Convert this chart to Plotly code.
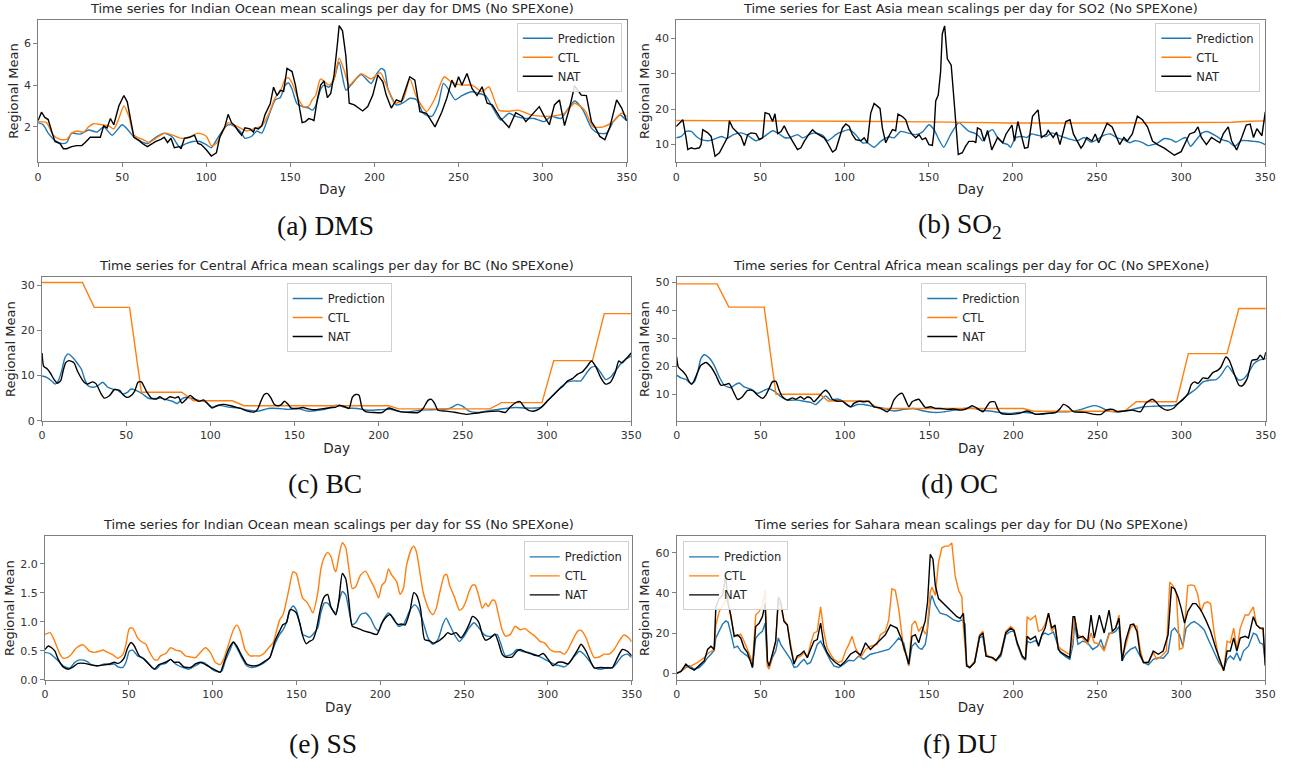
import plotly.graph_objects as go

W, H = 1301, 771

# ---------------------------------------------------------------------------
# Daily regional-mean scalings, stored as (day, value) samples per series
# ---------------------------------------------------------------------------

# (a) DMS, Indian Ocean
dms_pred = [(0,2.2),(3,2.1),(6,1.7),(10,1.35),(14,1.2),(17,1.25),(20,1.7),(25,1.65),(30,1.85),(35,1.75),
            (39,2.0),(44,1.6),(50,2.1),(54,1.8),(57,1.5),(61,1.3),(65,1.2),(70,1.5),(75,1.7),(80,1.5),
            (84,1.05),(88,1.2),(92,1.3),(96,1.3),(100,1.15),(103,1.0),(107,1.5),(112,2.05),(115,2.1),(120,1.8),
            (123,1.45),(127,1.55),(130,1.8),(133,1.7),(137,2.5),(141,3.3),(144,3.4),(147,4.0),(149,4.1),(151,3.8),
            (154,3.1),(158,2.95),(161,2.9),(163,2.8),(165,3.0),(168,3.8),(170,4.0),(173,3.9),(176,4.3),(179,5.1),
            (183,3.76),(186,4.0),(192,4.5),(198,4.08),(201,4.5),(204,4.8),(206,4.7),(208,3.84),(213,3.05),(217,3.15),
            (221,3.37),(225,3.3),(229,2.65),(234,2.5),(238,3.1),(241,4.08),(244,3.8),(248,3.3),(252,3.5),(258,3.68),
            (262,3.6),(266,3.5),(270,2.97),(275,2.33),(280,2.65),(284,2.5),(290,2.4),(295,2.4),(301,2.25),(305,2.5),
            (311,2.4),(314,2.73),(319,3.24),(324,2.8),(329,1.94),(333,1.7),(338,1.7),(342,2.25),(346,2.57),(350,2.29)]
dms_ctl = [(0,2.25),(5,2.2),(9,1.6),(13,1.4),(17,1.4),(20,1.7),(23,1.8),(27,1.75),(30,2.0),(33,2.15),
           (38,2.1),(42,2.05),(45,1.9),(48,2.4),(51,3.0),(54,2.5),(57,1.6),(62,1.4),(66,1.25),(70,1.45),
           (74,1.65),(76,1.7),(80,1.6),(85,1.45),(90,1.5),(95,1.7),(100,1.55),(103,1.1),(106,1.2),(110,1.8),
           (113,2.2),(116,2.1),(120,1.95),(124,1.8),(128,1.9),(133,2.05),(137,2.6),(141,3.4),(144,3.7),(147,4.3),
           (149,4.35),(151,4.1),(155,3.3),(158,2.95),(161,3.0),(163,3.3),(165,3.5),(168,4.3),(173,4.0),(176,4.3),
           (179,5.3),(182,4.7),(185,4.0),(192,4.55),(198,4.3),(203.5,4.6),(207,4.0),(212,3.13),(217,3.3),(221,4.3),
           (225,3.44),(231,2.73),(236,3.37),(241.5,4.4),(245.5,4.16),(252,4.0),(258,4.0),(264,3.68),(268,3.92),(274,2.8),
           (280,2.75),(285.5,2.8),(293,2.57),(301,2.5),(309,2.55),(313,2.65),(319,3.13),(325,2.8),(330,2.0),(336,2.0),
           (342,2.25),(347,2.65),(350,2.5)]
dms_nat = [(0,2.3),(2,2.7),(4,2.45),(6,2.35),(8,1.8),(10,1.3),(13,1.2),(15,0.95),(17,0.95),(20,1.05),
           (23,1.1),(26,1.1),(28,1.25),(31,1.5),(35,1.5),(37,1.5),(39,2.05),(41,1.95),(43,2.4),(45,2.1),
           (48,3.0),(51,3.5),(53,3.2),(55,2.4),(57,1.5),(60,1.35),(62,1.2),(65,1.05),(68,1.2),(70,1.3),
           (73,1.4),(75,1.5),(77,1.25),(79,1.45),(81,1.0),(84,1.05),(85,0.95),(87,1.45),(90,1.5),(93,1.6),
           (95,1.2),(97,1.15),(100,0.9),(103,0.6),(106,0.75),(108,1.5),(111,2.0),(113,2.6),(115,2.2),(117,2.05),
           (119,1.8),(121,1.6),(123,1.95),(126,1.9),(128,1.75),(129,1.95),(131,1.9),(133,2.05),(135,2.6),(138,3.1),
           (140,3.9),(142,3.5),(144,3.75),(146,3.7),(148,4.8),(151,4.65),(153,4.0),(155,3.0),(157,2.2),(159,2.25),
           (161,2.4),(163,2.35),(164,2.3),(166,3.3),(168,4.0),(170,4.2),(172,3.4),(174,3.6),(176,4.5),(178,6.0),
           (179,6.85),(181,6.6),(183,5.4),(185,3.13),(188,3.05),(193,2.76),(196,2.97),(199,3.52),(202,4.48),(205,4.16),
           (207,3.52),(210,2.9),(213,3.29),(216,3.2),(221,4.4),(224,4.24),(227,2.73),(231,2.65),(236,2.0),(240,2.7),
           (243,3.37),(246,4.24),(248,3.9),(250,4.4),(252,4.0),(255,4.56),(258,3.84),(261,3.5),(264,3.92),(267,3.13),
           (270,3.05),(275,2.41),(280,1.97),(284,2.68),(288,2.5),(290,2.25),(294,2.6),(298,2.97),(301,2.5),(304,2.1),
           (307,3.05),(310,3.29),(313,2.06),(316,2.9),(319,3.97),(323,3.52),(326,3.5),(329,2.25),(331,2.0),(334,1.54),
           (337,1.38),(340,2.0),(344,3.29),(347,2.9),(350,2.29)]

# (b) SO2, East Asia
so2_pred = [(0,11.9),(3,12.3),(6,13.7),(9,13.7),(12,12.3),(15,11.4),(19,11.1),(22,11.4),(27,12.3),(30,11.7),
            (34,12.8),(38.5,13.3),(42.5,12.6),(47.4,11.1),(52.4,12.3),(57.3,13.9),(60.3,13.3),(64.2,12.0),(67.2,11.9),(72.1,12.8),
            (75.1,11.9),(79,12.8),(82,13.3),(87,12.6),(90,11.1),(94.9,12.8),(97.8,13.5),(102.8,14.2),(106.7,12.8),(110.7,10.5),
            (113.6,10.5),(117.6,9.25),(121.5,10.9),(126.5,12.2),(129.4,11.9),(133.4,13.7),(137.4,13.3),(142.3,12.8),(146.2,13.5),(150.2,15.6),
            (153.2,14.2),(156.1,11.4),(159,9.25),(163,12.8),(168,16.2),(172,14.5),(174,13.7),(177,13.3),(180,12.3),(182,11.1),
            (186,13.7),(188,14.2),(191,11.9),(194,10.5),(197,10.0),(198.6,9.25),(201.6,11.9),(205.4,12.3),(208.4,12.0),(211,13.0),
            (215,12.6),(220,12.3),(223,13.3),(228.8,12.3),(232.7,11.7),(238.5,11.1),(242.4,12.0),(246.3,10.7),(250,11.4),(254,12.6),
            (258,13.0),(261.9,11.9),(265.8,11.4),(269.6,10.5),(272.6,11.1),(277.4,10.5),(280.4,9.7),(283.3,10.0),(286.2,10.5),(290,11.7),
            (294,11.4),(296.9,10.7),(300.8,11.7),(302.7,12.0),(305.6,9.5),(308.6,11.1),(312.5,13.3),(315.4,13.7),(320.2,12.6),(324.1,11.4),
            (328,10.9),(331.9,9.5),(335.8,11.1),(339.7,11.1),(343.6,10.9),(346.5,10.7),(350,10.0)]
so2_ctl = [(0,16.8),(50,16.8),(100,16.6),(150,16.4),(200,16.1),(250,16.1),(300,16.2),(330,16.3),(340,16.6),(350,16.7)]
so2_nat = [(0,15.1),(2,16.1),(4,17.0),(5.9,11.9),(6.9,8.6),(8.9,9.1),(10.9,8.8),(13.8,9.1),(14.8,10.0),(15.8,14.2),
           (18.8,13.3),(20.8,12.3),(23.1,6.7),(25.7,7.7),(28.7,10.5),(30.6,12.1),(31.6,16.7),(33.6,14.7),(36.6,13.3),(38.5,12.3),
           (40.5,9.7),(42.5,12.8),(44.5,13.3),(47.4,13.1),(49.4,11.4),(51.4,11.9),(52.8,19.0),(55.3,18.6),(57.3,16.5),(58.7,18.7),
           (60.3,13.1),(62.3,13.7),(64.2,15.3),(66.2,13.3),(69.2,10.9),(72.1,8.6),(74.1,9.1),(76.1,10.9),(79,13.0),(81,14.2),
           (83,13.3),(86,12.3),(87.9,11.9),(89.9,10.5),(92.9,7.9),(94.9,8.6),(96.8,11.9),(98.8,14.7),(100.8,15.8),(102.8,15.1),
           (104.7,12.8),(106.7,11.4),(109.7,11.1),(111.7,11.9),(113.6,10.5),(115.6,18.9),(117.6,21.6),(119.6,20.7),(121.1,20.2),(122.5,14.7),
           (124.5,10.5),(126.5,12.5),(128.5,14.2),(130.4,13.9),(131.8,18.6),(134.4,17.9),(136.4,17.0),(138.3,14.2),(140.3,12.8),(142.3,11.9),
           (144.3,12.8),(146.2,11.4),(148.2,11.9),(150.2,10.0),(152.2,9.8),(153.2,13.7),(154.2,22.3),(155.7,24.0),(157.1,30.5),(158.1,41.2),
           (159.5,43.5),(161.1,34.2),(163.4,32.4),(165,23.0),(166.6,11.9),(167.6,7.2),(170,7.7),(171.9,9.5),(173.9,10.9),(176.9,10.9),
           (178,10.5),(179,14.7),(181,14.2),(183,11.0),(185,14.0),(187.5,8.5),(191,12.0),(194,10.5),(196,13.0),(199.5,15.5),
           (201,11.0),(203,16.5),(207,9.0),(209,9.2),(211.7,18.0),(215,19.8),(217,12.0),(220,13.0),(221,14.0),(224,12.0),
           (226,13.5),(228,10.0),(231.5,16.5),(234,17.0),(236,13.0),(240.5,9.0),(242,10.0),(244,12.0),(247,11.0),(249,13.0),
           (251,10.5),(256,16.0),(259,15.0),(263.5,10.0),(266,12.0),(268,11.0),(271,13.0),(274,18.0),(277,17.0),(280,15.0),
           (283,11.0),(286,10.0),(290,9.0),(293,8.0),(296,7.0),(300,8.0),(302,10.0),(305,13.0),(308,13.5),(310,15.0),
           (312,12.0),(315,10.0),(318,12.0),(321,11.0),(323,10.5),(325,13.0),(328,15.0),(330,11.0),(333,8.5),(336,12.0),
           (338.7,15.5),(341,15.8),(343,12.0),(345,14.5),(348,12.5),(350,19.2)]

# (c) BC, Central Africa
bc_pred = [(0,9.9),(2.75,9.6),(5.7,8.8),(7.7,8.1),(9.6,8.8),(11.6,11.0),(13.6,13.9),(15.5,14.8),(18.5,13.9),(21.4,12.5),
           (23.4,11.4),(25.3,9.2),(27.3,7.75),(30.3,7.4),(33.2,7.75),(36.1,8.5),(39,7.4),(42,7.0),(45,6.7),(48,5.9),
           (50.9,6.3),(52.8,7.0),(55.8,6.7),(59.7,5.9),(63.6,4.9),(67.6,4.9),(70.5,5.0),(74.4,4.6),(77.4,4.3),(80.4,3.8),
           (83.3,4.9),(86.2,5.2),(89.2,4.9),(93.1,4.5),(97,4.2),(101,3.0),(104.9,3.4),(110.8,3.0),(116.7,2.8),(122.6,2.3),
           (128.5,2.1),(134.4,2.7),(140.3,2.7),(146.2,2.5),(152,2.7),(158,2.1),(163.9,2.3),(169.7,2.7),(174.7,3.4),(181.4,2.8),
           (187.3,2.7),(193,2.3),(200,2.4),(206.8,2.5),(212.7,2.0),(218.6,2.0),(224.4,2.3),(230.3,2.4),(236,2.5),(242,2.7),
           (246.9,3.6),(249.8,3.2),(253.7,2.1),(258.6,1.8),(263.5,2.1),(269.3,2.4),(275.2,2.7),(281,2.9),(286.9,2.8),(292.8,2.8),
           (296.7,3.0),(300.6,4.5),(304.5,5.9),(308.4,7.5),(312.3,8.6),(316.2,8.8),(320,8.8),(323,10.3),(326,11.7),(328.9,12.0),
           (331.8,10.7),(334.8,9.1),(337.7,9.6),(340.6,11.0),(343.6,12.5),(346.5,13.6),(350,14.3)]
bc_ctl = [(0,30.6),(24,30.6),(31,25.1),(52,25.1),(59,6.3),(83,6.3),(90,4.4),(113,4.4),(120,3.3),
          (206,3.3),(212,2.6),(266,2.6),(273,4.0),(297,4.0),(304,13.3),(327,13.3),(334,23.7),(350,23.7)]
bc_nat = [(0,15.0),(1,12.0),(3,11.5),(5,10.5),(7,9.2),(9,8.3),(11,8.8),(12.5,11.0),(14,12.8),(16,13.3),
          (19,12.8),(21,11.0),(25,8.5),(27,8.1),(30,8.6),(32,8.2),(35,6.0),(37,5.0),(40,5.5),(43,6.9),
          (46,6.7),(48,5.8),(50,5.2),(52,5.3),(55,6.5),(57,8.5),(59,8.6),(62,6.5),(65,5.0),(68,4.8),
          (70,5.3),(73,4.6),(76,5.3),(79,5.0),(81,5.3),(83,3.9),(85,4.5),(88,5.6),(90,5.0),(93,4.3),
          (96,4.6),(98,3.9),(101,2.8),(104,3.3),(108,3.6),(112,3.3),(115,3.0),(118,2.7),(122,2.1),(126,1.9),
          (128,2.5),(130,4.3),(132,5.8),(134,6.0),(136,5.0),(138,3.6),(140,3.3),(142,3.5),(144,4.3),(146,3.7),
          (148,2.8),(152,2.7),(155,2.9),(158,2.6),(162,2.4),(166,2.6),(170,2.8),(174.6,3.0),(176.6,3.4),(180.5,3.0),
          (182.4,2.7),(184.4,5.2),(186.3,5.8),(188.3,5.6),(190.2,2.7),(192.2,2.0),(197,1.8),(202,1.8),(205.9,2.8),(208.8,2.5),
          (212.7,2.0),(218.6,1.8),(223.4,1.8),(226.4,2.7),(229.3,4.5),(231.3,4.7),(233.2,3.8),(235.2,2.3),(240,2.1),(245.9,1.8),
          (251.8,1.4),(256.6,1.6),(260.5,1.8),(265.4,2.0),(271.3,2.1),(275.2,1.8),(278.1,3.0),(282,4.1),(284,4.2),(286.9,2.8),
          (290.8,2.1),(293.8,2.3),(296.7,3.0),(300.6,4.5),(303.5,5.6),(306.4,6.7),(309.4,7.6),(312.3,8.8),(315.2,9.3),(318.2,10.3),
          (321,10.8),(324,12.1),(326.4,13.2),(328.9,12.0),(331.8,9.6),(334.8,8.1),(337.7,8.5),(340.6,10.7),(342.6,13.2),(344.5,12.8),
          (347.5,13.9),(350,15.0)]

# (d) OC, Central Africa
oc_pred = [(0,16.9),(2.6,15.9),(5.5,15.4),(8.5,13.9),(10.5,14.5),(12.5,18.0),(14.4,22.8),(16.4,24.2),(19.4,23.0),(22.3,20.4),
           (25.3,16.3),(28.3,13.3),(32.2,12.4),(34.2,13.3),(37.2,14.1),(40.1,12.7),(44.1,11.9),(48,10.4),(52,11.5),(55,12.1),
           (57.9,11.2),(61.9,9.2),(65.8,8.0),(71.7,8.0),(75.7,7.6),(79.6,7.2),(82.6,6.4),(85.6,8.0),(88.5,9.5),(91.5,8.0),
           (95.5,8.4),(99.4,7.4),(103.4,5.6),(107.3,6.4),(111.3,6.4),(117.2,5.6),(123.1,5.0),(129,4.1),(135,4.7),(140.9,5.0),
           (146.8,4.1),(152.8,3.6),(158.7,3.8),(164.6,4.4),(170.6,5.0),(177.5,5.0),(180,4.4),(186,4.1),(191.8,3.6),(197.7,3.25),
           (203.5,3.6),(209.4,3.5),(215.2,2.9),(221,3.25),(226.9,3.8),(232.7,3.8),(238.6,4.4),(243.5,5.3),(247.4,6.0),(251.3,5.6),
           (255.2,4.4),(260,3.8),(265.9,4.1),(271.7,4.8),(277.6,5.6),(283.4,5.8),(289.3,6.0),(295,6.0),(298,6.8),(301,8.6),
           (304.9,10.4),(308.8,12.1),(312.7,14.5),(316.6,15.1),(320.5,15.3),(323.4,16.9),(327.3,20.2),(330.2,18.0),(334.1,15.1),(337,15.7),
           (340,18.0),(342.9,21.0),(345.8,22.2),(350,22.8)]
oc_ctl = [(0,49.5),(24,49.5),(31,41.2),(52,41.2),(59,10.1),(85,10.1),(90,7.7),(113,7.7),(120,5.0),
          (206,5.0),(212,4.0),(266,4.0),(273,7.4),(297,7.4),(304,24.6),(327,24.6),(334,40.7),(350,40.7)]
oc_nat = [(0,23.4),(1,19.8),(3.6,18.3),(5.5,16.9),(7.5,14.5),(8.9,13.6),(10.5,15.1),(12.5,18.0),(14.4,20.4),(17.4,21.4),
          (20.4,19.8),(23.3,16.9),(26.3,13.3),(29.2,13.6),(31.2,13.9),(34.2,10.4),(36.2,8.2),(39.1,9.2),(42.1,11.5),(45.1,11.5),
          (48,9.8),(51,8.6),(53,9.8),(54.9,12.1),(56.9,14.5),(58.9,14.7),(60.9,11.5),(62.8,9.2),(65.8,8.0),(68.8,8.8),
          (70.8,8.3),(73.7,9.2),(75.7,8.3),(77.7,9.1),(79.6,8.8),(81.6,7.4),(83.6,8.6),(86.6,10.7),(88.5,11.5),(90.5,10.4),
          (92.5,8.3),(95.5,7.6),(98.4,7.6),(101.4,6.2),(103.4,5.6),(105.3,6.8),(108.3,7.6),(111.3,7.4),(114.2,7.6),(117.2,5.6),
          (120.2,5.3),(123.1,4.4),(125.1,3.85),(127.1,5.0),(129,8.0),(132,10.0),(134,10.4),(136,8.0),(137.9,5.6),(139.9,7.4),
          (141.9,8.0),(143.9,8.3),(145.8,6.8),(147.8,5.3),(150.8,5.6),(153.8,5.0),(156.7,5.0),(160.7,4.7),(164.6,4.8),(168.6,4.4),
          (172.5,5.0),(175.5,6.0),(178,5.3),(182,3.85),(186,7.2),(188.9,7.4),(190.8,4.8),(192.8,3.25),(197.7,2.9),(203.5,3.25),
          (208.4,4.1),(213.3,2.9),(219,3.25),(225,3.5),(227.9,5.0),(229.8,6.45),(232.7,5.6),(235.7,3.85),(242.5,3.6),(248.3,2.9),
          (252.2,2.9),(255.2,4.4),(259,4.7),(262,3.85),(265.9,4.1),(270.8,4.4),(275.6,3.85),(278.6,6.8),(282.5,8.3),(284.4,7.6),
          (287.3,5.6),(291.2,4.4),(295,5.0),(298,6.8),(301,8.3),(303.9,10.4),(305.8,13.6),(307.8,14.5),(309.7,13.9),(312.7,15.9),
          (315.6,15.7),(318.5,17.8),(321.4,18.6),(323.4,19.8),(326.3,23.4),(328.3,22.2),(331.2,17.5),(334.1,13.3),(336.1,13.1),(339,15.7),
          (341.9,22.2),(344.8,22.5),(346.8,24.0),(348.7,22.5),(350,25.1)]

# (e) SS, Indian Ocean
ss_pred = [(0,0.47),(3,0.45),(6.9,0.35),(10.8,0.24),(14.8,0.2),(17.8,0.30),(20.7,0.34),(24.7,0.32),(27.6,0.26),(31.6,0.24),
           (35.5,0.27),(38.5,0.26),(41.4,0.27),(43.4,0.22),(46.4,0.21),(48.3,0.30),(50.3,0.49),(52.3,0.51),(55.2,0.41),(58.2,0.38),
           (61.1,0.30),(64.1,0.21),(66.1,0.18),(69,0.26),(72,0.28),(75,0.35),(77.9,0.27),(81.9,0.21),(85.8,0.18),(89.7,0.24),
           (93.7,0.30),(96.6,0.26),(99.6,0.18),(102.6,0.14),(105.5,0.15),(107.5,0.32),(110.5,0.52),(112.4,0.64),(114.4,0.55),(117.4,0.38),
           (120.3,0.24),(123.3,0.21),(127.2,0.24),(131.2,0.30),(134.1,0.38),(137.1,0.61),(140,0.78),(142,0.86),(144,0.98),(146,1.18),
           (147.9,1.27),(149.9,1.2),(151.9,0.98),(153.8,0.78),(155.8,0.75),(157.8,0.73),(159.8,0.78),(162.7,0.89),(164.6,1.16),(166.6,1.32),
           (168.6,1.32),(171.5,1.2),(173.5,1.15),(175.4,1.35),(177.4,1.52),(179.4,1.46),(181.3,1.2),(183.3,0.95),(185.3,0.98),(188.2,1.12),
           (191.2,1.15),(194.1,1.06),(197,0.89),(199,0.84),(202,1.04),(204.9,1.15),(207.9,1.06),(210.8,0.92),(213.8,0.95),(217.7,1.2),
           (220.6,1.29),(222.6,1.23),(225.5,1.0),(228.5,0.72),(231.4,0.61),(234.4,0.69),(237.3,0.95),(239.3,1.06),(241.3,0.95),(244.2,0.78),
           (247.2,0.66),(250.1,0.75),(253,0.89),(256,0.98),(258.9,0.89),(261.9,0.78),(263.8,0.75),(266.8,0.75),(269.7,0.78),(271.7,0.64),
           (274.7,0.41),(278.6,0.44),(281.5,0.52),(284.5,0.49),(288.4,0.47),(292.3,0.43),(296.3,0.38),(300.2,0.32),(304.1,0.26),(307.1,0.24),
           (310,0.22),(313,0.30),(316,0.41),(318.9,0.49),(321.8,0.43),(324.8,0.32),(327.7,0.21),(331.6,0.18),(335.6,0.21),(338.5,0.2),
           (341.5,0.30),(344.4,0.41),(347.4,0.44),(350,0.38)]
ss_ctl = [(0,0.78),(3,0.81),(4.9,0.72),(6.9,0.58),(8.9,0.44),(10.8,0.37),(13.8,0.39),(15.8,0.44),(17.8,0.52),(19.7,0.57),
          (22.7,0.6),(24.7,0.55),(26.6,0.49),(29.6,0.47),(32.5,0.49),(34.5,0.51),(37.5,0.47),(40.4,0.43),(43.4,0.37),(46.4,0.43),
          (48.3,0.61),(50.3,0.88),(52.3,0.89),(55.2,0.72),(58.2,0.64),(60.2,0.61),(62.1,0.49),(65.1,0.35),(67.1,0.34),(69,0.41),
          (72,0.45),(75,0.55),(77.9,0.51),(80.9,0.49),(83.8,0.41),(86.8,0.39),(89.7,0.38),(92.7,0.47),(95.7,0.55),(98.6,0.47),
          (101.6,0.3),(104.5,0.26),(106.5,0.35),(109.5,0.61),(112.4,0.86),(114.4,0.94),(116.4,0.84),(119.3,0.52),(122.3,0.41),(125.2,0.41),
          (128.2,0.41),(131.2,0.47),(133.1,0.54),(136.1,0.64),(138.1,0.84),(140,1.03),(142,1.12),(144,1.35),(146,1.63),(147.9,1.86),
          (149.9,1.83),(151.9,1.6),(153.8,1.4),(155.8,1.35),(157.8,1.26),(159.8,1.15),(162.7,1.49),(164.6,1.91),(166.6,2.11),(168.6,2.19),
          (170.5,2.13),(172.5,1.91),(173.5,1.86),(175.4,2.14),(177.4,2.36),(179.4,2.28),(181.3,1.91),(183.3,1.57),(185.3,1.6),(188.2,1.8),
          (191.2,1.87),(194.1,1.72),(197,1.55),(199,1.41),(201,1.63),(203,1.69),(204.9,1.91),(206.9,1.8),(209.8,1.69),(211.8,1.47),
          (213.8,1.57),(215.7,1.97),(218.7,2.26),(220,2.3),(221.6,2.2),(223.6,1.86),(225.5,1.52),(227.5,1.32),(229.5,1.18),(231.4,1.12),
          (233.4,1.23),(235.4,1.49),(238.3,1.8),(239.7,1.81),(241.3,1.63),(244.2,1.43),(247.2,1.2),(249.1,1.23),(251.1,1.35),(253,1.52),
          (255,1.63),(256.6,1.63),(258.9,1.43),(260.9,1.23),(262.9,1.32),(264.4,1.26),(266.8,1.37),(268.4,1.36),(270.3,1.15),(272.7,0.86),
          (274.7,0.75),(277.6,0.78),(280.5,0.92),(283.5,0.86),(286.4,0.88),(289.4,0.81),(292.3,0.75),(295.3,0.66),(298.2,0.63),(301.2,0.52),
          (304.1,0.48),(307.1,0.48),(310,0.44),(312,0.52),(314.9,0.69),(317.9,0.84),(319.8,0.85),(322.8,0.72),(325.7,0.49),(327.7,0.38),
          (330.6,0.39),(333.6,0.44),(336.5,0.44),(339.5,0.52),(342.4,0.66),(345.4,0.77),(348.3,0.72),(350,0.65)]
ss_nat = [(0,0.52),(2,0.58),(3.9,0.55),(5.9,0.49),(7.9,0.35),(10.8,0.22),(13.8,0.18),(16.8,0.22),(19.7,0.28),(23.7,0.28),
          (26.6,0.26),(30.6,0.24),(34.5,0.25),(38.5,0.27),(41.4,0.3),(43.4,0.28),(45.4,0.31),(47.3,0.38),(49.3,0.55),(51.3,0.64),
          (53.3,0.58),(56.2,0.41),(59.2,0.35),(62.1,0.26),(65.1,0.18),(68,0.26),(72,0.3),(75,0.35),(76.9,0.3),(79.9,0.3),
          (82.8,0.22),(86.8,0.21),(89.7,0.27),(92.7,0.3),(95.7,0.26),(98.6,0.21),(102.6,0.15),(104.5,0.125),(106.5,0.27),(109.5,0.52),
          (112.4,0.65),(114.4,0.58),(117.4,0.41),(120.3,0.27),(123.3,0.24),(127.2,0.25),(131.2,0.32),(134.1,0.38),(137.1,0.66),(140,0.84),
          (142,0.95),(144,0.98),(146,1.2),(147.9,1.2),(149.9,1.15),(151.9,0.98),(153.8,0.75),(155.8,0.62),(157.8,0.66),(159.8,0.69),
          (161.7,0.84),(164.6,1.26),(166.6,1.43),(168.6,1.47),(170.5,1.26),(173.5,1.12),(175.4,1.39),(177.4,1.83),(179.4,1.74),(181.3,1.35),
          (183.3,0.92),(186.3,0.89),(190.2,0.84),(194.1,0.81),(198,0.78),(201,0.98),(203.9,1.09),(205.9,1.12),(208.8,1.0),(210.8,0.95),
          (212.8,0.96),(214.7,0.94),(217.7,1.18),(220,1.5),(221.6,1.46),(224,1.23),(226.5,0.69),(229.5,0.67),(231.4,0.63),(234.4,0.66),
          (238.3,0.75),(240.3,0.81),(242.2,0.78),(245.2,0.81),(248.1,0.72),(251.1,0.84),(253.4,0.98),(255,1.09),(257,1.06),(258.9,0.98),
          (260.9,0.78),(262.9,0.68),(265.8,0.72),(268.4,0.79),(270.3,0.66),(272.7,0.44),(274.7,0.39),(278.6,0.39),(281.5,0.49),(283.5,0.52),
          (286.4,0.48),(290.4,0.44),(294.3,0.41),(297.2,0.45),(300.2,0.35),(303.1,0.24),(306.1,0.3),(309,0.3),(312,0.27),(314.9,0.38),
          (317.9,0.52),(319.8,0.61),(322.8,0.49),(325.7,0.3),(327.7,0.2),(331.6,0.21),(335.6,0.2),(338.5,0.21),(341.5,0.38),(344.4,0.52),
          (347.4,0.49),(350,0.41)]

# (f) DU, Sahara
du_pred = [(0,0.0),(2.6,1.0),(5.5,2.9),(7.5,3.75),(10.5,2.1),(13.4,2.9),(16.4,5.4),(18.4,7.8),(20.4,9.5),(22.3,11.4),
           (23.3,17.6),(25.3,20.9),(27.3,24.5),(29.2,26.1),(30.6,25.4),(32.2,20.0),(34.2,12.7),(36.2,13.5),(38.1,11.1),(40.1,9.8),
           (42.1,8.6),(44.1,6.2),(45.1,2.9),(47,17.6),(49,19.6),(51,20.9),(52.6,25.0),(54,4.0),(55,2.9),(56.9,7.8),
           (58.9,11.1),(60.5,17.6),(61.9,14.4),(63.8,11.9),(65.8,9.5),(67.8,7.0),(69.8,2.9),(71.7,3.3),(73.7,5.4),(75.7,7.0),
           (77.7,4.6),(79.6,5.4),(81.6,9.5),(83.6,14.4),(85.6,16.0),(87.5,12.7),(89.5,9.5),(91.5,6.2),(93.5,3.75),(96.4,2.9),
           (99.4,4.6),(102.4,6.5),(105.3,6.2),(108.3,8.6),(111.3,7.0),(115.2,9.5),(119.2,10.3),(123.1,11.4),(126.1,11.9),(129,14.4),
           (132,17.6),(135,15.2),(137,7.8),(138,3.75),(139.9,13.5),(141.9,15.2),(143.9,12.7),(145.8,11.9),(147.8,14.4),(148.8,19.2),
           (150.8,35.6),(151.8,38.8),(153.8,33.9),(156.7,29.9),(160.7,29.0),(164.6,26.6),(167.6,25.8),(169.6,26.6),(171.5,24.5),(172.3,3.75),
           (174.3,2.9),(177.2,5.4),(180.1,17.6),(182,18.4),(184,8.6),(187.9,7.8),(189.9,6.2),(192.8,8.6),(195.7,19.2),(198.6,20.9),
           (200.6,20.9),(202.5,14.4),(205.5,7.8),(207.4,6.5),(208.4,16.0),(210.3,15.2),(213.3,16.3),(215.2,14.4),(217.2,19.2),(219.1,20.0),
           (221,19.2),(224,20.6),(225.9,16.0),(227.9,10.6),(230.8,8.6),(233.7,7.0),(235.7,14.4),(236.6,25.0),(238.6,14.4),(241.5,16.0),
           (244.4,15.2),(247.4,11.9),(250.3,13.5),(252.2,16.8),(254.2,11.9),(257.1,20.0),(259.1,20.0),(261,20.9),(263,23.3),(264.9,6.2),
           (266.9,9.5),(269.8,11.9),(272.7,13.1),(275.6,8.6),(277.6,5.4),(280.5,4.2),(283.4,7.0),(286.4,7.8),(289.3,7.5),(292.2,10.3),
           (294.2,20.9),(296.1,22.5),(299,19.2),(301,13.5),(302.9,22.5),(305.8,25.0),(307.8,25.8),(310.7,24.1),(313.6,21.7),(316.6,16.0),
           (319.5,10.3),(322.4,5.4),(325.3,2.1),(327.3,7.0),(329.2,8.6),(331.2,7.0),(333.1,10.3),(335.1,6.2),(337,11.1),(340,13.5),
           (342.9,20.0),(344.8,19.2),(346.8,15.2),(348.7,14.4),(350,5.0)]
du_ctl = [(0,0.0),(2.6,1.3),(5.5,3.3),(8.5,3.75),(11.5,4.9),(13.4,6.2),(16.4,7.8),(18.4,9.8),(20.4,11.1),(22.3,11.9),
          (23.3,24.1),(25.3,30.7),(27.3,33.9),(29.2,36.4),(30.6,34.7),(32.2,27.4),(34.2,19.2),(36.2,18.4),(38.1,19.6),(40.1,16.0),
          (42.1,11.9),(44.1,7.8),(45.1,4.6),(47,29.0),(49,30.7),(51,33.9),(52.6,41.3),(54,3.3),(55,2.1),(56.9,8.6),
          (58.9,16.0),(60.5,36.4),(61.9,33.1),(63.8,26.6),(65.8,24.1),(67.8,14.4),(69.8,5.4),(71.7,7.8),(73.7,8.6),(75.7,10.3),
          (77.7,7.8),(79.6,14.4),(81.6,20.0),(83.6,20.9),(85.6,33.1),(87.5,20.9),(89.5,12.7),(91.5,9.5),(93.5,7.0),(96.4,5.4),
          (98.4,6.2),(100.4,11.1),(102.4,14.4),(104.3,18.4),(106.3,12.7),(109.3,7.8),(112.3,11.9),(115.2,13.5),(119.2,14.4),(121.1,19.2),
          (124.1,20.9),(126.1,26.6),(128,42.1),(130,41.3),(132,32.3),(135,11.9),(137,8.6),(138,3.75),(139.9,24.1),(141.9,26.1),
          (143.9,20.9),(145.8,23.3),(147.8,19.6),(148.8,20.9),(150.8,40.5),(151.8,42.9),(153.8,38.8),(155.7,55.1),(157.7,62.5),(159.7,63.3),
          (161.7,63.3),(163.6,64.9),(165.6,48.6),(167.6,41.3),(169.6,38.0),(170.4,24.1),(172.3,4.6),(174.3,2.9),(177.2,6.2),(180.1,19.2),
          (182.1,20.9),(184,9.5),(187.9,7.5),(189.9,6.2),(192.8,10.3),(195.7,20.9),(198.6,23.3),(200.6,21.7),(202.5,15.2),(205.5,8.6),
          (207.4,7.0),(208.4,28.2),(210.3,26.6),(213.3,28.7),(215.2,20.9),(217.2,21.7),(219.1,24.5),(221.1,29.9),(223,20.9),(225,23.3),
          (226.9,13.5),(228.8,11.9),(231.8,10.3),(233.7,9.5),(235.7,17.6),(236.6,28.2),(238.6,19.2),(241.5,17.6),(244.4,14.4),(246.4,20.1),
          (248.3,15.2),(251.3,14.7),(254.2,11.1),(257.1,19.2),(259.1,20.9),(261,22.5),(263,29.0),(264.9,7.8),(266.9,13.5),(269.8,22.5),
          (271.7,24.1),(273.7,23.3),(275.6,11.9),(277.6,5.4),(280.5,5.4),(283.4,10.3),(285.4,7.0),(288.3,8.6),(291.2,11.1),(293.2,45.4),
          (295.1,43.7),(297.1,39.6),(299,11.9),(301,12.7),(303.9,43.7),(305.8,44.0),(307.8,43.7),(309.7,39.6),(311.7,30.7),(313.6,34.7),
          (315.6,35.6),(317.5,34.7),(319.5,20.9),(322.4,7.0),(325.3,1.3),(327.3,16.0),(329.2,15.2),(331.2,22.5),(333.1,11.9),(335.1,22.5),
          (338,29.0),(340,29.0),(342.9,33.1),(344.8,24.1),(346.8,22.5),(348.7,21.7),(350,4.0)]
du_nat = [(0,0.0),(2.6,1.0),(5.5,4.6),(7.5,2.9),(10.5,1.6),(13.4,3.75),(16.4,6.2),(18.4,11.9),(20.4,13.5),(22.3,11.9),
          (23.3,33.1),(25.3,37.2),(27.3,38.8),(29.2,48.6),(30.6,34.7),(32.2,29.0),(34.2,18.4),(36.2,19.2),(38.1,17.6),(40.1,12.7),
          (42.1,10.3),(44.1,5.4),(45.1,2.9),(47,23.3),(49,24.9),(51,28.2),(52.6,34.7),(54,6.2),(55,3.75),(56.9,9.5),
          (58.9,16.0),(60.5,38.0),(61.9,35.6),(63.8,25.8),(65.8,24.1),(67.8,12.7),(69.8,4.6),(71.7,8.6),(73.7,9.5),(75.7,11.1),
          (77.7,7.8),(79.6,11.9),(81.6,16.0),(83.6,16.8),(85.6,25.0),(87.5,14.4),(89.5,10.3),(91.5,7.8),(94.4,5.4),(97.4,3.75),
          (100.4,6.2),(103.3,9.5),(106.3,11.1),(109.3,9.1),(112.3,15.2),(115.2,11.9),(118.2,14.4),(121.1,16.8),(124.1,19.2),(127.1,24.1),
          (129,23.3),(131,22.5),(133.8,16.8),(136,10.3),(138,4.6),(139.9,18.4),(141.9,19.2),(143.9,15.2),(145.8,20.9),(147.8,26.1),
          (149.2,35.6),(150.8,59.2),(152.4,56.8),(153.8,43.7),(155.7,37.2),(157.7,35.6),(160.7,33.1),(163.6,30.7),(166.6,28.2),(168.6,27.4),
          (170.5,29.9),(171.5,17.6),(172.5,3.75),(174.3,2.9),(177.2,5.4),(180.1,18.4),(182.1,20.1),(184,8.6),(187.9,7.8),(189.9,6.5),
          (192.8,9.5),(195.7,20.1),(198.6,22.5),(200.6,21.2),(202.5,15.2),(205.5,8.6),(207.4,7.0),(208.4,18.4),(210.3,16.8),(213.3,18.4),
          (215.2,13.5),(217.2,19.2),(219.1,22.5),(221.1,29.9),(223,22.5),(225,24.1),(226.9,11.9),(228.8,10.3),(231.8,8.6),(233.7,7.8),
          (235.7,28.2),(236.6,28.2),(238.6,17.6),(241.5,18.4),(244.4,15.8),(246.4,29.0),(248.3,17.6),(251.3,29.0),(254.2,20.1),(257.1,31.5),
          (259.1,20.9),(261,22.5),(263,27.4),(264.9,6.2),(266.9,16.0),(269.8,24.1),(271.7,24.5),(273.7,20.9),(275.6,9.5),(277.6,5.4),
          (280.5,5.4),(283.4,11.1),(286.4,9.5),(289.3,11.1),(292.2,19.2),(294.2,42.9),(296.1,42.1),(298.1,38.0),(300,32.3),(302,25.0),
          (303.9,30.7),(306.8,34.7),(308.8,34.7),(311.7,31.5),(314.6,26.6),(317.5,20.9),(320.5,12.7),(323.4,5.4),(325.3,1.3),(327.3,11.1),
          (329.2,11.1),(331.2,17.6),(333.1,11.1),(335.1,17.6),(338,18.4),(340,17.6),(342.9,28.2),(344.8,24.1),(346.8,22.5),(348.7,22.5),
          (350,3.75)]

series_names = ["Prediction", "CTL", "NAT"]
series_colors = ["#1f77b4", "#ff7f0e", "#000000"]
day_ticks = [0, 50, 100, 150, 200, 250, 300, 350]


def px_x(x):
    return x / W


def px_y(y):
    return 1 - y / H


# Panel layout in screen pixels: axes box (left, top, right, bottom).
# "smooth" says which of (Prediction, CTL, NAT) are drawn as splines.
panels = [
    dict(title="Time series for Indian Ocean mean scalings per day for DMS (No SPEXone)",
         caption="(a) DMS", data=(dms_pred, dms_ctl, dms_nat), smooth=(True, True, False),
         box=(34.5, 19, 630, 163), yrange=[0.30, 7.13], yticks=[2, 4, 6], ticktext=None,
         legend=dict(x=625, y=22, xanchor="right"), cap=(325, 227)),
    dict(title="Time series for East Asia mean scalings per day for SO2 (No SPEXone)",
         caption="(b) SO<sub>2</sub>", data=(so2_pred, so2_ctl, so2_nat), smooth=(True, False, False),
         box=(680, 19, 1276, 163), yrange=[5.0, 45.2], yticks=[10, 20, 30, 40], ticktext=None,
         legend=dict(x=1271, y=22, xanchor="right"), cap=(967, 227)),
    dict(title="Time series for Central Africa mean scalings per day for BC (No SPEXone)",
         caption="(c) BC", data=(bc_pred, bc_ctl, bc_nat), smooth=(True, False, True),
         box=(38.5, 279, 634.5, 424.5), yrange=[-0.1, 31.8], yticks=[0, 10, 20, 30], ticktext=None,
         legend=dict(x=286, y=285, xanchor="left"), cap=(325, 488)),
    dict(title="Time series for Central Africa mean scalings per day for OC (No SPEXone)",
         caption="(d) OC", data=(oc_pred, oc_ctl, oc_nat), smooth=(True, False, True),
         box=(680.5, 279, 1276.5, 424.5), yrange=[0.5, 51.9], yticks=[0, 10, 20, 30, 40, 50], ticktext=None,
         legend=dict(x=928, y=285, xanchor="left"), cap=(967, 488)),
    dict(title="Time series for Indian Ocean mean scalings per day for SS (No SPEXone)",
         caption="(e) SS", data=(ss_pred, ss_ctl, ss_nat), smooth=(True, True, True),
         box=(41.5, 541, 635, 686), yrange=[-0.004, 2.47], yticks=[0, 0.5, 1.0, 1.5, 2.0],
         ticktext=["0.0", "0.5", "1.0", "1.5", "2.0"],
         legend=dict(x=632, y=546, xanchor="right"), cap=(323, 750)),
    dict(title="Time series for Sahara mean scalings per day for DU (No SPEXone)",
         caption="(f) DU", data=(du_pred, du_ctl, du_nat), smooth=(False, False, False),
         box=(680.5, 541, 1276, 686), yrange=[-3.25, 68.15], yticks=[0, 20, 40, 60], ticktext=None,
         legend=dict(x=687, y=546, xanchor="left"), cap=(967, 750)),
]

FONT = "DejaVu Sans"
AXIS_GREY = "#7f7f7f"

fig = go.Figure()
layout = dict(
    width=W, height=H,
    margin=dict(l=0, r=0, t=0, b=0),
    paper_bgcolor="white", plot_bgcolor="white",
    font=dict(family=FONT, color="#262626"),
    annotations=[],
)

for i, p in enumerate(panels):
    n = i + 1
    sx = "" if n == 1 else str(n)
    leg = "legend" + sx
    for name, color, pairs, smooth in zip(series_names, series_colors, p["data"], p["smooth"]):
        days = [d for d, _ in pairs]
        vals = [v for _, v in pairs]
        line = dict(color=color, width=1.4)
        if smooth:
            line.update(shape="spline", smoothing=0.6)
        fig.add_trace(go.Scatter(
            x=days, y=vals, mode="lines", name=name, line=line,
            xaxis="x" + sx, yaxis="y" + sx, legend=leg,
        ))

    left, top, right, bottom = p["box"]
    layout["xaxis" + sx] = dict(
        domain=[px_x(left), px_x(right)], anchor="y" + sx,
        range=[0, 350], tickvals=day_ticks,
        showline=True, mirror=True, linecolor=AXIS_GREY, linewidth=1,
        ticks="outside", ticklen=4, tickcolor=AXIS_GREY,
        tickfont=dict(size=11, color="#333333"),
        showgrid=False, zeroline=False,
        title=dict(text="Day", font=dict(size=13.5, color="#262626"), standoff=2),
    )
    yax = dict(
        domain=[px_y(bottom), px_y(top)], anchor="x" + sx,
        range=p["yrange"], tickvals=p["yticks"],
        showline=True, mirror=True, linecolor=AXIS_GREY, linewidth=1,
        ticks="outside", ticklen=4, tickcolor=AXIS_GREY,
        tickfont=dict(size=11, color="#333333"),
        showgrid=False, zeroline=False,
        title=dict(text="Regional Mean", font=dict(size=13, color="#262626"), standoff=2),
    )
    if p["ticktext"]:
        yax["ticktext"] = p["ticktext"]
    layout["yaxis" + sx] = yax

    lg = p["legend"]
    layout[leg] = dict(
        x=px_x(lg["x"]), y=px_y(lg["y"]), xanchor=lg["xanchor"], yanchor="top",
        bgcolor="rgba(255,255,255,0.85)", bordercolor="#d0d0d0", borderwidth=1,
        font=dict(size=11.5, family=FONT, color="#262626"),
        itemwidth=30, tracegroupgap=0,
    )

    layout["annotations"].append(dict(
        text=p["title"], xref="paper", yref="paper",
        x=px_x((left + right) / 2), y=px_y(top - 2), xanchor="center", yanchor="bottom",
        showarrow=False, font=dict(size=12.9, family=FONT, color="#262626"),
    ))
    cx, cy = p["cap"]
    layout["annotations"].append(dict(
        text=p["caption"], xref="paper", yref="paper",
        x=px_x(cx), y=px_y(cy), xanchor="center", yanchor="middle",
        showarrow=False, font=dict(size=27.5, family="Liberation Serif", color="#111111"),
    ))

fig.update_layout(**layout)
fig.write_html("out.html")
